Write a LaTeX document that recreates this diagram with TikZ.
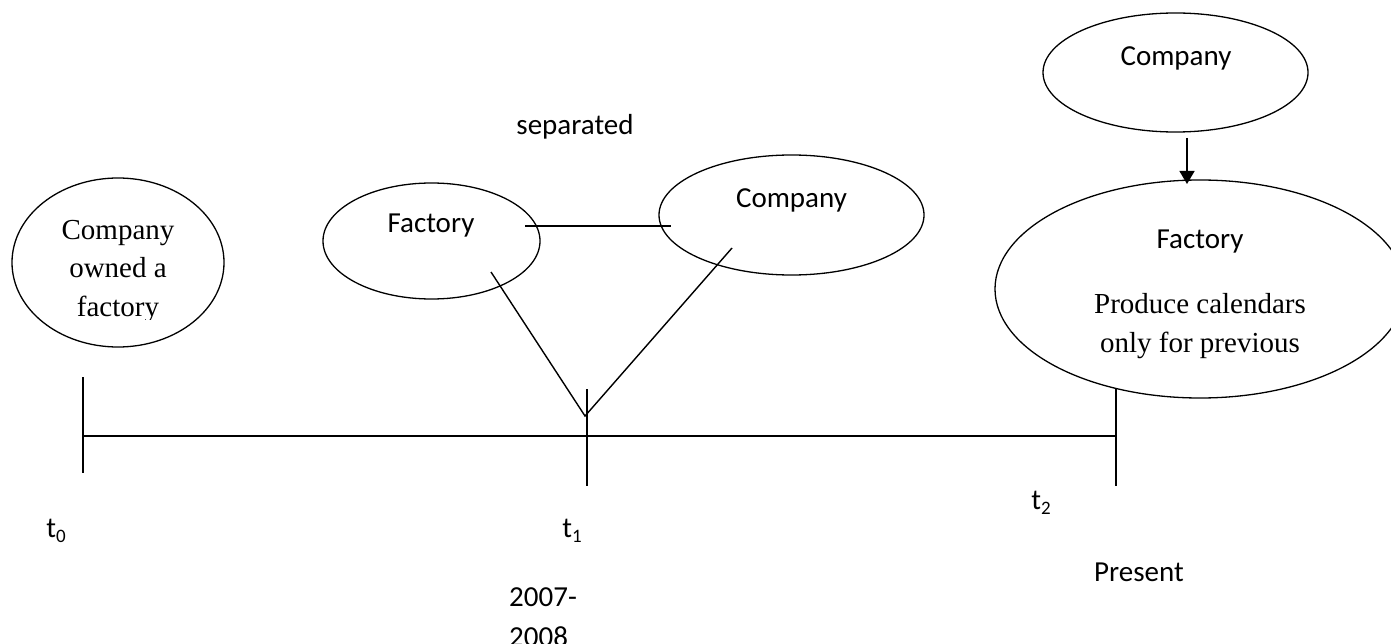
\documentclass[tikz,border=0pt]{standalone}
\usepackage{fontspec}
\setmainfont{Liberation Serif}
\newfontfamily\calibri{Carlito}
\usetikzlibrary{shapes.geometric,arrows.meta}

\begin{document}
\begin{tikzpicture}[x=1pt,y=-1pt,
  oval/.style={draw, ellipse, line width=1.3pt, inner sep=0pt},
  link/.style={line width=1.4pt},
  sans/.style={font=\calibri\fontsize{29}{38}\selectfont, inner sep=0pt, anchor=base},
  serif/.style={font=\fontsize{29}{38.5}\selectfont, inner sep=0pt, anchor=base, align=center},
]
\useasboundingbox (0,0) rectangle (1391,644);
\clip (0,0) rectangle (1391,644);

% ---- ovals ----
\node[oval, minimum width=212pt, minimum height=169pt] (own)  at (118,262.5) {};
\node[oval, minimum width=217pt, minimum height=116pt] (facA) at (431.5,241) {};
\node[oval, minimum width=265pt, minimum height=120pt] (comA) at (791.5,215) {};
\node[oval, minimum width=265pt, minimum height=119pt] (comB) at (1175.5,72.5) {};
\node[oval, minimum width=410pt, minimum height=218pt] (facB) at (1200,289) {};

% ---- texts inside the ovals (the last line's baseline is the anchor) ----
\begin{scope}
  \clip (0,0) rectangle (400,319);
  \node[serif] (ownTxt) at (118,316) {Company\\owned a\\factory};
\end{scope}
\node[sans] (facATxt) at (431,233) {Factory};
\node[sans] (comATxt) at (791.5,208) {Company};
\node[sans] (comBTxt) at (1176,66) {Company};
\node[sans] (facBTxt) at (1200,249) {Factory};
\node[serif] (facBNote) at (1200,352) {Produce calendars\\only for previous};

% ---- free labels ----
\node[sans] (sepLbl) at (575,135) {separated};
\node[sans] (lblT0) at (56,537) {t\raisebox{-0.18em}{\fontsize{19}{19}\selectfont 0}};
\node[sans] (lblT1) at (572,537) {t\raisebox{-0.18em}{\fontsize{19}{19}\selectfont 1}};
\node[sans] (lblT2) at (1041,509) {t\raisebox{-0.18em}{\fontsize{19}{19}\selectfont 2}};
\node[sans] (lblPresent) at (1139,581) {Present};
\node[sans, anchor=base west, align=left, font=\calibri\fontsize{29}{40}\selectfont] (lblYears) at (509,646) {2007-\\2008};

% ---- timeline ----
\coordinate (tl0) at (83,436);
\coordinate (tl1) at (587,436);
\coordinate (tl2) at (1116,436);
\coordinate (tick0a) at (83,377);
\coordinate (tick0b) at (83,473);
\coordinate (tick1a) at (587,389);
\coordinate (tick1b) at (587,486);
\coordinate (tick2a) at (1116,388);
\coordinate (tick2b) at (1116,486);
\draw[link] (tl0) -- (tl1) -- (tl2);
\draw[link] (tick0a) -- (tick0b);
\draw[link] (tick1a) -- (tick1b);
\draw[link] (tick2a) -- (tick2b);

% ---- separation of factory and company ----
\coordinate (sepL) at (525,226);
\coordinate (sepR) at (671,226);
\draw[link] (sepL) -- (sepR);
\coordinate (vLeft) at (491,272);
\coordinate (vTip) at (585,416);
\coordinate (vRight) at (732,248);
\draw[link] (vLeft) -- (vTip) -- (vRight);

% ---- company feeds the factory ----
\coordinate (arrFrom) at (1187,138);
\coordinate (arrTo) at (1187,184);
\draw[link, -{Triangle[length=13pt,width=15pt]}] (arrFrom) -- (arrTo);
\end{tikzpicture}
\end{document}
